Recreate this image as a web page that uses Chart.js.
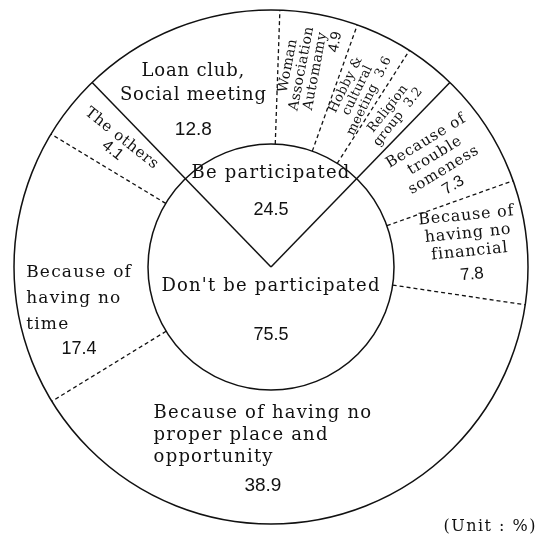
<!DOCTYPE html>
<html>
<head>
<meta charset="utf-8">
<script src="https://cdn.jsdelivr.net/npm/chart.js@4.4.0/dist/chart.umd.min.js"></script>
<style>
  html, body { margin: 0; padding: 0; background: #fff; }
  #wrap { width: 535px; height: 549px; position: relative; }
</style>
</head>
<body>
<div id="wrap"><canvas id="chart"></canvas></div>
<script>
// inner circle: participation
const groupNames = ['Be participated', "Don't be participated"];
const groupValues = [24.5, 75.5];

// outer ring: breakdown, clockwise from the left solid line
const itemNames = [
    ['Loan club,', 'Social meeting'],
    ['Woman', 'Association', 'Automamy'],
    ['Hobby &', 'cultural', 'meeting'],
    ['Religion', 'group'],
    ['Because of', 'trouble', 'someness'],
    ['Because of', 'having no', 'financial'],
    ['Because of having no', 'proper place and', 'opportunity'],
    ['Because of', 'having no', 'time'],
    ['The others']
];
const itemValues = [12.8, 4.9, 3.6, 3.2, 7.3, 7.8, 38.9, 17.4, 4.1];
const itemGroup = [0, 0, 0, 0, 1, 1, 1, 1, 1];

const unitText = '(Unit : %)';

const SERIF = '"DejaVu Serif", serif';
const NUM = '"Liberation Sans", sans-serif';

// where each label sits: a = along the arc (0..1), r = across the ring (0..1)
// turn: 0 = horizontal, 'out' = along the radius, 'in' = along the radius, flipped
// lh = line step, gap = room given to the value line
const itemPlace = [
    { a: 0.40, r: 0.42, turn: 0, size: 18, lh: 24, gap: 44, ls: 0.8 },
    { a: 0.50, r: 0.58, turn: 'out', size: 14, lh: 14, value: 'end', ls: 0.4 },
    { a: 0.50, r: 0.55, turn: 'out', size: 13, lh: 13, value: 'inline', ls: 0.3 },
    { a: 0.50, r: 0.55, turn: 'out', size: 13, lh: 13, value: 'inline', ls: 0.3 },
    { a: 0.55, r: 0.56, turn: 'out', size: 15, lh: 17, gap: 19, ls: 0.8 },
    { a: 0.50, r: 0.57, turn: 'out', size: 16, lh: 18, gap: 28, ls: 0.8 },
    { a: 0.60, r: 0.47, turn: 0, size: 18, lh: 22, gap: 34, ls: 1.2, align: 'left' },
    { a: 0.30, r: 0.55, turn: 0, size: 17, lh: 26, gap: 24, ls: 1.2, align: 'left' },
    { a: 0.50, r: 0.55, turn: 'in', size: 15, lh: 15, gap: 15, ls: 0.8 }
];
const groupPlace = [
    { r: 0.56, size: 18, lh: 23, gap: 49 },
    { r: 0.46, size: 18, lh: 23, gap: 75 }
];

function drawBlock(ctx, cx, cy, rot, lines) {
    ctx.save();
    ctx.translate(cx, cy);
    ctx.rotate(rot);
    ctx.textBaseline = 'middle';
    ctx.fillStyle = '#111';
    let w = 0, h = 0;
    lines.forEach(l => {
        ctx.font = l.font;
        ctx.letterSpacing = l.ls || '0px';
        l.w = ctx.measureText(l.t).width;
        w = Math.max(w, l.w);
        h += l.h;
    });
    let y = -h / 2;
    lines.forEach(l => {
        ctx.font = l.font;
        ctx.letterSpacing = l.ls || '0px';
        let x = -l.w / 2;
        if (l.align === 'left') x = -w / 2;
        if (l.align === 'right') x = w / 2 - l.w;
        ctx.textAlign = 'left';
        ctx.fillText(l.t, x, y + l.h / 2);
        y += l.h;
    });
    ctx.restore();
}

const ringLines = {
    id: 'ringLines',
    afterDatasetsDraw(chart) {
        const ctx = chart.ctx;
        const outer = chart.getDatasetMeta(0).data;
        const inner = chart.getDatasetMeta(1).data;
        const p = outer[0].getProps(['x', 'y', 'innerRadius', 'outerRadius']);
        const cx = p.x, cy = p.y, rIn = p.innerRadius, rOut = p.outerRadius;

        ctx.save();
        ctx.strokeStyle = '#111';
        ctx.lineWidth = 1.5;
        ctx.beginPath();
        ctx.arc(cx, cy, rOut, 0, Math.PI * 2);
        ctx.stroke();
        ctx.beginPath();
        ctx.arc(cx, cy, rIn, 0, Math.PI * 2);
        ctx.stroke();

        // solid lines between the two groups
        inner.forEach(arc => {
            const a = arc.startAngle;
            ctx.beginPath();
            ctx.moveTo(cx, cy);
            ctx.lineTo(cx + rOut * Math.cos(a), cy + rOut * Math.sin(a));
            ctx.stroke();
        });

        // dashed lines between items of the same group
        ctx.setLineDash([4, 3]);
        ctx.lineWidth = 1.3;
        outer.forEach((arc, i) => {
            const prev = (i + outer.length - 1) % outer.length;
            if (itemGroup[i] !== itemGroup[prev]) return;
            const a = arc.startAngle;
            ctx.beginPath();
            ctx.moveTo(cx + rIn * Math.cos(a), cy + rIn * Math.sin(a));
            ctx.lineTo(cx + rOut * Math.cos(a), cy + rOut * Math.sin(a));
            ctx.stroke();
        });
        ctx.restore();

        // outer labels
        outer.forEach((arc, i) => {
            const s = itemPlace[i];
            const a = arc.startAngle + (arc.endAngle - arc.startAngle) * s.a;
            const r = rIn + (rOut - rIn) * s.r;
            let rot = 0;
            if (s.turn === 'out') rot = a;
            if (s.turn === 'in') rot = a + Math.PI;
            const font = s.size + 'px ' + SERIF;
            const numFont = (s.size + 1) + 'px ' + NUM;
            const ls = s.ls + 'px';
            const val = itemValues[i].toFixed(1);
            let lines = itemNames[i].map(t => ({ t: t, font: font, ls: ls, h: s.lh, align: s.align }));
            if (s.value === 'inline') {
                lines[lines.length - 1].t += '  ' + val;
            } else if (s.value === 'end') {
                lines.push({ t: val, font: numFont, h: s.lh, align: 'right' });
            } else {
                lines.push({ t: val, font: numFont, h: s.gap });
            }
            drawBlock(ctx, cx + r * Math.cos(a), cy + r * Math.sin(a), rot, lines);
        });

        // inner labels
        inner.forEach((arc, i) => {
            const s = groupPlace[i];
            const a = (arc.startAngle + arc.endAngle) / 2;
            const r = rIn * s.r;
            drawBlock(ctx, cx + r * Math.cos(a), cy + r * Math.sin(a), 0, [
                { t: groupNames[i], font: s.size + 'px ' + SERIF, ls: '1.2px', h: s.lh },
                { t: groupValues[i].toFixed(1), font: s.size + 'px ' + NUM, h: s.gap }
            ]);
        });

        // unit note
        ctx.save();
        ctx.font = '16px ' + SERIF;
        ctx.letterSpacing = '1.5px';
        ctx.fillStyle = '#111';
        ctx.textAlign = 'right';
        ctx.textBaseline = 'middle';
        ctx.fillText(unitText, 537, 527);
        ctx.restore();
    }
};

new Chart(document.getElementById('chart'), {
    type: 'doughnut',
    data: {
        labels: itemNames.map(n => n.join(' ')),
        datasets: [{
            data: itemValues,
            backgroundColor: '#fff',
            borderWidth: 0,
            weight: 134
        }, {
            data: groupValues,
            backgroundColor: '#fff',
            borderWidth: 0,
            weight: 123
        }]
    },
    options: {
        responsive: true,
        maintainAspectRatio: false,
        animation: false,
        events: [],
        cutout: 0,
        // centre the "participated" wedge at the top
        rotation: -groupValues[0] * 3.6 / 2,
        layout: { padding: { left: 14, right: 7, top: 10, bottom: 25 } },
        plugins: {
            legend: { display: false },
            tooltip: { enabled: false }
        }
    },
    plugins: [ringLines]
});
</script>
</body>
</html>
